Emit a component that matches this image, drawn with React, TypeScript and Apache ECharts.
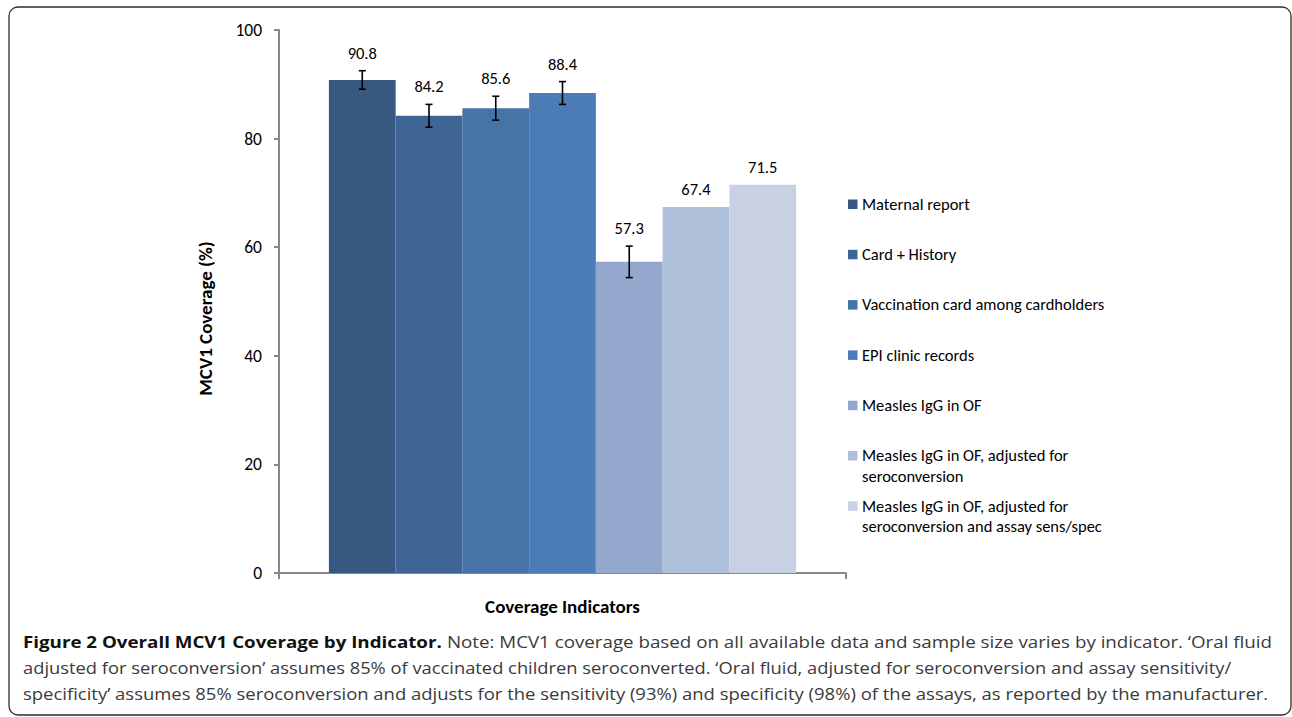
import React, { useEffect, useRef } from 'react';
import * as echarts from 'echarts';

// ---------- data ----------
const categories = ['Overall'];
const seriesNames = [
  'Maternal report',
  'Card + History',
  'Vaccination card among cardholders',
  'EPI clinic records',
  'Measles IgG in OF',
  'Measles IgG in OF, adjusted for seroconversion',
  'Measles IgG in OF, adjusted for seroconversion and assay sens/spec',
];
const legendLabels = [
  'Maternal report',
  'Card + History',
  'Vaccination card among cardholders',
  'EPI clinic records',
  'Measles IgG in OF',
  'Measles IgG in OF, adjusted for\nseroconversion',
  'Measles IgG in OF, adjusted for\nseroconversion and assay sens/spec',
];
const values = [90.8, 84.2, 85.6, 88.4, 57.3, 67.4, 71.5];
const errors = [1.7, 2.1, 2.2, 2.1, 2.9, 0, 0];
const colors = ['#375880', '#3e6596', '#4674a7', '#4b7cb6', '#94a8ce', '#afc0db', '#c8d0e3'];
const yMin = 0;
const yMax = 100;
const yInterval = 20;
const yTitle = 'MCV1 Coverage (%)';
const xTitle = 'Coverage Indicators';

const captionBold = 'Figure 2 Overall MCV1 Coverage by Indicator.';
const captionLines = [
  ' Note: MCV1 coverage based on all available data and sample size varies by indicator. \u2018Oral fluid',
  'adjusted for seroconversion\u2019 assumes 85% of vaccinated children seroconverted. \u2018Oral fluid, adjusted for seroconversion and assay sensitivity/',
  'specificity\u2019 assumes 85% seroconversion and adjusts for the sensitivity (93%) and specificity (98%) of the assays, as reported by the manufacturer.',
];

// ---------- layout / style ----------
const W = 1292;
const H = 717;
const CHART_FONT = 'Carlito, Lato, sans-serif';
const CAPTION_FONT = '"Open Sans", "Noto Sans", sans-serif';
const CAPTION_SIZE = 16;
const CAT_GAP = 0.176;
const AXIS_COLOR = '#878787';
const LABEL_GAP = 18;
const CAPTION_X = 23;
const CAPTION_ENDS = [1272, 1233, 1270];
const CAPTION_Y = [642, 668, 694];
const LEGEND_X = 848;
const LEGEND_Y0 = 204;
const LEGEND_STEP = 50.3;

function measure(text: string, font: string): number {
  const c = document.createElement('canvas').getContext('2d');
  if (!c) return text.length * 8;
  c.font = font;
  return c.measureText(text).width;
}

export default function App() {
  const ref = useRef<HTMLDivElement>(null);

  useEffect(() => {
    if (!ref.current) return;
    const chart = echarts.init(ref.current, undefined, { renderer: 'svg' });
    const n = values.length;

    const barSeries = seriesNames.map((name, i) => ({
      name,
      type: 'bar',
      data: [values[i]],
      barGap: '0%',
      barCategoryGap: (CAT_GAP * 100).toFixed(1) + '%',
      itemStyle: { color: colors[i] },
      z: 2,
    }));

    const errSeries = {
      type: 'custom',
      name: 'errors',
      z: 5,
      encode: { x: 0, y: 1 },
      data: values.map((v, i) => [0, v, i, errors[i]]),
      renderItem: (params: any, api: any) => {
        const v = api.value(1) as number;
        const i = api.value(2) as number;
        const e = api.value(3) as number;
        const base = api.coord([0, 0]);
        const band = (api.size([1, 0]) as number[])[0];
        const groupW = band * (1 - CAT_GAP);
        const bw = groupW / n;
        const cx = base[0] - groupW / 2 + (i + 0.5) * bw;
        const yTop = api.coord([0, v + e])[1];
        const yBot = api.coord([0, v - e])[1];
        const st = { stroke: '#000', lineWidth: 1.6 };
        const children: any[] = [];
        if (e > 0) {
          children.push({ type: 'line', shape: { x1: cx, y1: yTop, x2: cx, y2: yBot }, style: st });
          children.push({ type: 'line', shape: { x1: cx - 3.5, y1: yTop, x2: cx + 3.5, y2: yTop }, style: st });
          children.push({ type: 'line', shape: { x1: cx - 3.5, y1: yBot, x2: cx + 3.5, y2: yBot }, style: st });
        }
        children.push({
          type: 'text',
          x: cx,
          y: yTop - LABEL_GAP,
          style: {
            text: v.toFixed(1),
            fill: '#000',
            font: `16.5px ${CHART_FONT}`,
            align: 'center',
            verticalAlign: 'middle',
          },
        });
        return { type: 'group', children };
      },
    };

    // legend drawn as graphic (first line of each entry aligned with its swatch)
    const legendGraphics: any[] = [];
    legendLabels.forEach((lab, i) => {
      const cy = LEGEND_Y0 + i * LEGEND_STEP;
      legendGraphics.push({
        type: 'rect',
        shape: { x: LEGEND_X, y: cy - 4.5, width: 9.5, height: 9.5 },
        style: { fill: colors[i] },
      });
      legendGraphics.push({
        type: 'text',
        x: LEGEND_X + 14,
        y: cy - 10.5,
        style: {
          text: lab,
          fill: '#000',
          font: `16.5px ${CHART_FONT}`,
          lineHeight: 20.5,
          align: 'left',
          verticalAlign: 'top',
        },
      });
    });

    // caption
    const boldFont = `bold ${CAPTION_SIZE}px ${CAPTION_FONT}`;
    const normFont = `${CAPTION_SIZE}px ${CAPTION_FONT}`;
    const captionGraphics: any[] = captionLines.map((line, k) => {
      const target = CAPTION_ENDS[k] - CAPTION_X;
      let natural = measure(line, normFont);
      if (k === 0) natural += measure(captionBold, boldFont);
      let s = target / natural;
      if (!isFinite(s) || s <= 0) s = 1;
      s = Math.max(0.8, Math.min(1.2, s));
      const text = k === 0 ? `{b|${captionBold}}{n|${line}}` : `{n|${line}}`;
      return {
        type: 'group',
        x: CAPTION_X,
        y: CAPTION_Y[k],
        scaleX: s,
        children: [
          {
            type: 'text',
            x: 0,
            y: 0,
            style: {
              text,
              align: 'left',
              verticalAlign: 'middle',
              rich: {
                b: { font: boldFont, fill: '#111' },
                n: { font: normFont, fill: '#3a3a3a' },
              },
            },
          },
        ],
      };
    });

    const option: any = {
      animation: false,
      backgroundColor: '#fff',
      grid: { left: 279, right: W - 846, top: 30, bottom: H - 573, containLabel: false },
      xAxis: {
        type: 'category',
        data: categories,
        axisLabel: { show: false },
        axisLine: { show: true, lineStyle: { color: AXIS_COLOR, width: 2 } },
        axisTick: { show: true, length: 6, lineStyle: { color: AXIS_COLOR, width: 2 } },
        name: xTitle,
        nameLocation: 'middle',
        nameGap: 24,
        nameTextStyle: { fontFamily: CHART_FONT, fontSize: 19, fontWeight: 'bold', color: '#000', verticalAlign: 'top' },
      },
      yAxis: {
        type: 'value',
        min: yMin,
        max: yMax,
        interval: yInterval,
        splitLine: { show: false },
        axisLine: { show: true, lineStyle: { color: AXIS_COLOR, width: 2 } },
        axisTick: { show: true, length: 5, lineStyle: { color: AXIS_COLOR, width: 2 } },
        axisLabel: { margin: 17, fontFamily: CHART_FONT, fontSize: 17.5, color: '#000' },
        name: yTitle,
        nameLocation: 'middle',
        nameRotate: 90,
        nameGap: 64,
        nameTextStyle: {
          fontFamily: CHART_FONT,
          fontSize: 19,
          fontWeight: 'bold',
          color: '#000',
          padding: [0, 34, 0, 0],
        },
      },
      series: [...barSeries, errSeries],
      graphic: [
        {
          type: 'rect',
          shape: { x: 9, y: 7, width: 1282, height: 708, r: 9 },
          style: { fill: 'none', stroke: '#2e2e2e', lineWidth: 1.3 },
          silent: true,
        },
        ...legendGraphics,
        ...captionGraphics,
      ],
    };

    chart.setOption(option);
    return () => chart.dispose();
  }, []);

  return (
    <div
      ref={ref}
      style={{ position: 'absolute', left: 0, top: 0, width: W, height: H, background: '#fff' }}
    />
  );
}
